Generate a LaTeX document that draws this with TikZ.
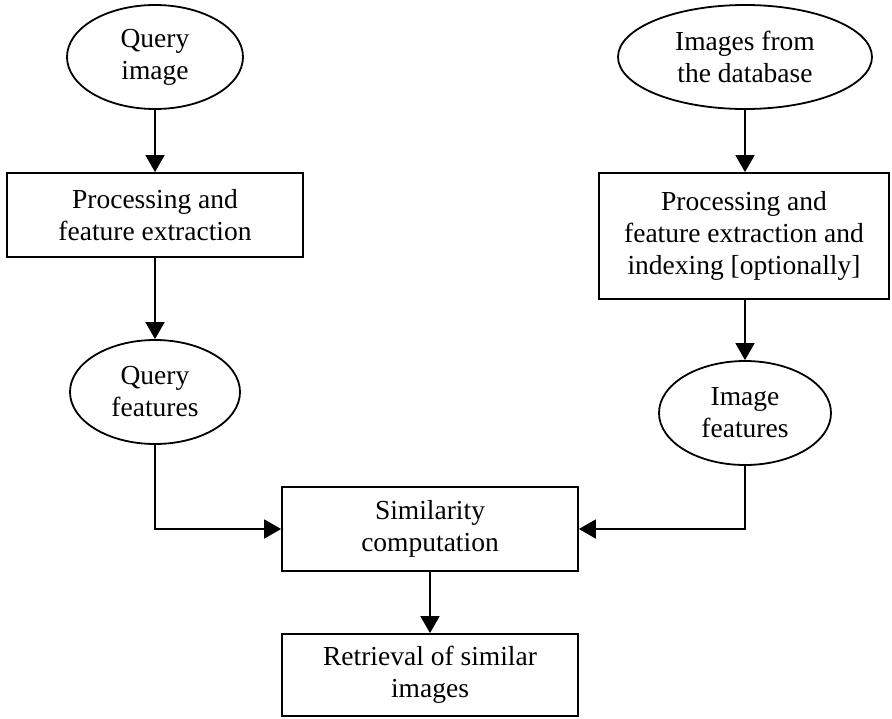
\documentclass[tikz,border=0pt]{standalone}
\usepackage{fontspec}
\setmainfont{Liberation Serif}
\usetikzlibrary{shapes.geometric,arrows.meta}
\begin{document}
\begin{tikzpicture}[x=1pt,y=1pt,
  every node/.style={align=center,font=\fontsize{27.5}{32}\selectfont,inner sep=0pt},
  oval/.style={draw,ellipse,line width=1.8pt},
  boxn/.style={draw,rectangle,line width=1.8pt},
  conn/.style={line width=1.8pt},
  arr/.style={conn,-{Triangle[length=17pt,width=19pt]}}]
\useasboundingbox (0,0) rectangle (892,-718);
\node[oval,minimum width=176pt,minimum height=104pt] (qimg) at (155,-57) {Query\\image};
\node[boxn,minimum width=296pt,minimum height=84pt] (proc1) at (155,-215) {Processing and\\feature extraction};
\node[oval,minimum width=170pt,minimum height=104pt] (qfeat) at (155,-392) {Query\\features};
\node[oval,minimum width=254pt,minimum height=104pt] (dbimg) at (745,-57) {Images from\\the database};
\node[boxn,minimum width=290pt,minimum height=126pt] (proc2) at (744,-236) {Processing and\\feature extraction and\\indexing [optionally]};
\node[oval,minimum width=172pt,minimum height=104pt] (ifeat) at (745,-413) {Image\\features};
\node[boxn,minimum width=296pt,minimum height=84pt] (sim) at (430,-529) {Similarity\\computation};
\node[boxn,minimum width=296pt,minimum height=82pt] (ret) at (430,-675) {Retrieval of similar\\images};
\draw[arr] (qimg.south) -- (proc1.north);
\draw[arr] (proc1.south) -- (qfeat.north);
\draw[arr] (qfeat.south) |- (sim.west);
\draw[arr] (dbimg.south) -- (dbimg.south |- proc2.north);
\draw[arr] (proc2.south -| ifeat.north) -- (ifeat.north);
\draw[arr] (ifeat.south) |- (sim.east);
\draw[arr] (sim.south) -- (ret.north);
\end{tikzpicture}
\end{document}
